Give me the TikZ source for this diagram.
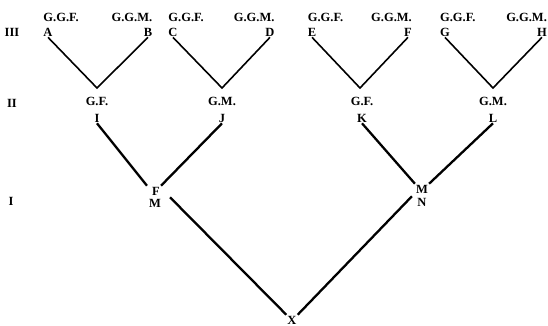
\documentclass[tikz,border=0pt]{standalone}
\usepackage{fontspec}
\setmainfont{Liberation Serif}
\usetikzlibrary{positioning, calc}
\tikzset{
    x = 1pt,
    y = -1pt,
    every node/.style = {
        font = \fontsize{12.5}{14}\selectfont\bfseries,
        inner sep = 1pt
    },
    letter/.style = {},
    kin/.style = {},
    link/.style = {
        line width = 1.6pt
    },
    heavy/.style = {
        line width = 2.3pt
    }
}

\begin{document}
\begin{tikzpicture}
    \useasboundingbox (0,0) rectangle (548,326);
    % generation marks
    \node (rIII) at (12,32) {III};
    \node (rII) at (12,103) {II};
    \node (rI) at (11,201) {I};
    % great-grandparents
    \foreach \n/\x/\t/\s in {A/48/G.G.F./west, B/148/G.G.M./east,
                             C/173/G.G.F./west, D/270/G.G.M./east,
                             E/312/G.G.F./west, F/408/G.G.M./east,
                             G/445/G.G.F./west, H/542/G.G.M./east}{
        \node[letter] (\n) at (\x,32) {\n};
        \node[kin, anchor=south \s] (t\n) at ([yshift=4pt]\n.north \s) {\t};
    }
    % grandparents
    \foreach \n/\x/\t in {I/97/G.F., J/222/G.M., K/362/G.F., L/493/G.M.}{
        \node[kin] (t\n) at (\x,101) {\t};
        \node[letter] (\n) at (\x,118) {\n};
    }
    \coordinate (AB) at (97,88);
    \coordinate (CD) at (222,88);
    \coordinate (EF) at (360,88);
    \coordinate (GH) at (493,88);
    \draw[link] (A.south) -- (AB) -- (B.south);
    \draw[link] (C.south) -- (CD) -- (D.south);
    \draw[link] (E.south) -- (EF) -- (F.south);
    \draw[link] (G.south) -- (GH) -- (H.south);
    % parents
    \node[letter] (lF) at (156,191) {F};
    \node[letter] (lM) at (155,203) {M};
    \node[letter] (rM) at (422,189) {M};
    \node[letter] (rN) at (422,202) {N};
    \node[letter] (X) at (292,320) {X};
    \draw[heavy] (I.south) -- ([xshift=-4pt]lF.north west);
    \draw[heavy] (J.south) -- (lF.north east);
    \draw[heavy] (K.south) -- (rM.north west);
    \draw[heavy] (L.south) -- (rM.north east);
    \draw[heavy] ([shift={(9pt,-1pt)}]lF.south east) -- (X.north west);
    \draw[heavy] ([shift={(-3pt,-2pt)}]rM.south west) -- (X.north east);
\end{tikzpicture}
\end{document}
